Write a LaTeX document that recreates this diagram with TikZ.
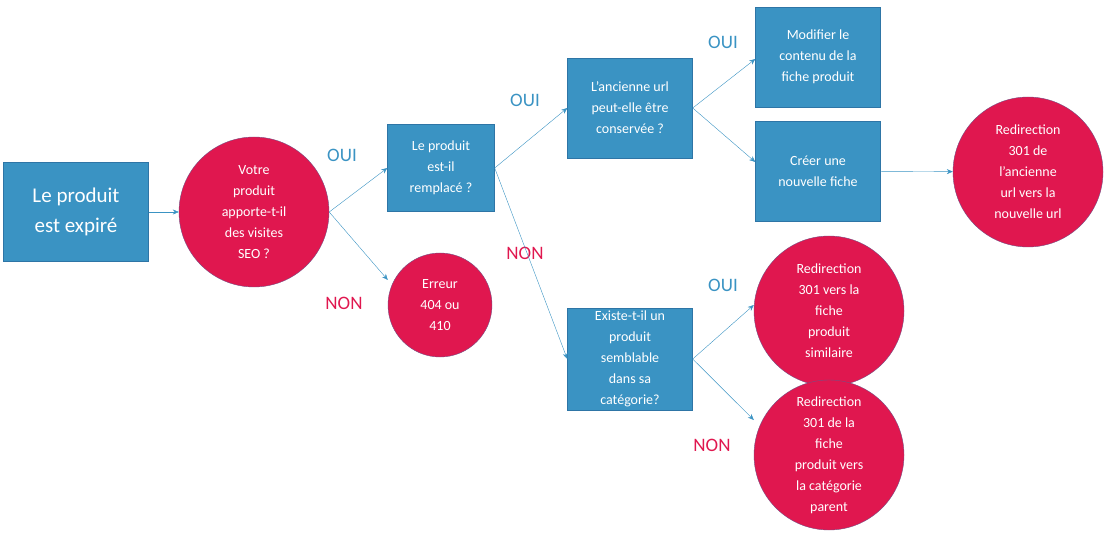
\documentclass[tikz,border=0pt]{standalone}
\usepackage{fontspec}
\setmainfont{Carlito}
\usetikzlibrary{arrows.meta}
\definecolor{boxblue}{HTML}{3A93C3}
\definecolor{boxline}{HTML}{2E75A6}
\definecolor{dotred}{HTML}{E0174F}
\tikzset{
  question/.style={rectangle, fill=boxblue, draw=boxline, text=white, align=center,
    minimum width=125pt, minimum height=100pt, inner sep=2pt,
    font=\fontsize{14}{21}\selectfont},
  stop/.style={circle, fill=dotred, draw=boxline!60!dotred, text=white, align=center,
    minimum size=150pt, inner sep=0pt, font=\fontsize{14}{21}\selectfont},
  link/.style={draw=boxblue, -{Stealth[length=6pt,width=5pt]}},
  yes/.style={text=boxblue, font=\fontsize{19}{22}\selectfont},
  no/.style={text=dotred, font=\fontsize{19}{22}\selectfont}
}
\begin{document}
\begin{tikzpicture}[x=1pt, y=-1pt]
  \useasboundingbox (0,0) rectangle (1110,534);
  \node[question, minimum width=145pt, minimum height=99pt, font=\fontsize{21}{30}\selectfont] (expire) at (76,212) {Le produit\\est expiré};
  \node[stop] (seo) at (254,212) {Votre\\produit\\apporte-t-il\\des visites\\SEO ?};
  \node[question, minimum width=107pt, minimum height=87pt] (remplace) at (441,168) {Le produit\\est-il\\remplacé ?};
  \node[stop, minimum size=104pt] (erreur) at (440,305) {Erreur\\404 ou\\410};
  \node[question] (url) at (630,108) {L’ancienne url\\peut-elle être\\conservée ?};
  \node[question, minimum height=102pt] (semblable) at (630,359) {Existe-t-il un\\produit\\semblable\\dans sa\\catégorie?};
  \node[question] (modifier) at (818,57) {Modifier le\\contenu de la\\fiche produit};
  \node[question] (creer) at (818,171) {Créer une\\nouvelle fiche};
  \node[stop] (redir) at (1028,172) {Redirection\\301 de\\l’ancienne\\url vers la\\nouvelle url};
  \node[stop] (similaire) at (829,311) {Redirection\\301 vers la\\fiche\\produit\\similaire};
  \node[stop] (parent) at (829,455) {Redirection\\301 de la\\fiche\\produit vers\\la catégorie\\parent};
  % answers
  \node[yes] (oui1) at (342,155) {OUI};
  \node[no] (non1) at (344,303) {NON};
  \node[yes] (oui2) at (525,100) {OUI};
  \node[no] (non2) at (525,253) {NON};
  \node[yes] (oui3) at (723,42) {OUI};
  \node[yes] (oui4) at (723,285) {OUI};
  \node[no] (non4) at (712,445) {NON};
  % links
  \draw[link] (expire) -- (seo);
  \draw[link] (seo.east) -- (remplace.west);
  \draw[link] (seo.east) -- (erreur.west |- 0,280);
  \draw[link] (remplace.east) -- (url.west);
  \draw[link] (remplace.east) -- (semblable.west);
  \draw[link] (url.east) -- ([yshift=-2pt]modifier.west);
  \draw[link] (url.east) -- ([yshift=9pt]creer.west);
  \draw[link] (creer) -- (redir);
  \draw[link] (semblable.east) -- (similaire.west |- 0,305);
  \draw[link] (semblable.east) -- (parent.west |- 0,420);
\end{tikzpicture}
\end{document}
